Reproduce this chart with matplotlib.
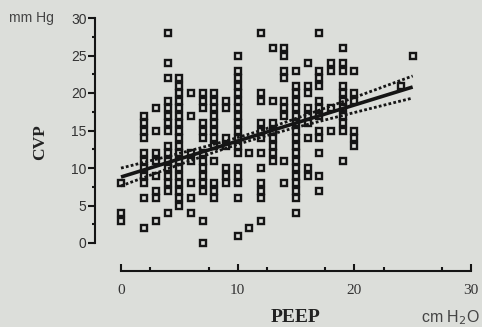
import numpy as np
import matplotlib
matplotlib.use("Agg")
import matplotlib.pyplot as plt
from matplotlib.ticker import FixedLocator

# ---- data ----
peep_levels = [0, 2, 3, 4, 5, 6, 7, 8, 9, 10, 11, 12, 13, 14, 15, 16, 17, 18, 19, 20, 24, 25]
cvp_p0 = [3, 4, 8]
cvp_p2 = [2, 6, 8, 9, 10, 11, 12, 14, 15, 16, 17]
cvp_p3 = [3, 6, 7, 9, 11, 12, 15, 18]
cvp_p4 = [4, 7, 8, 9, 10, 11, 12, 13, 15, 16, 17, 18, 19, 22, 24, 28]
cvp_p5 = [5, 6, 7, 8, 9, 10, 11, 12, 13, 14, 15, 16, 17, 18, 19, 20, 21, 22]
cvp_p6 = [4, 6, 8, 11, 12, 17, 20]
cvp_p7 = [0, 3, 7, 8, 9, 10, 11, 12, 14, 15, 16, 18, 19, 20]
cvp_p8 = [6, 7, 8, 11, 13, 14, 15, 16, 17, 18, 19, 20]
cvp_p9 = [8, 9, 10, 13, 14, 18, 19]
cvp_p10 = [1, 6, 8, 9, 10, 12, 13, 14, 15, 16, 17, 18, 19, 20, 21, 22, 23, 25]
cvp_p11 = [2, 12]
cvp_p12 = [3, 6, 7, 8, 10, 12, 14, 15, 16, 19, 20, 28]
cvp_p13 = [11, 12, 13, 14, 15, 16, 19, 26]
cvp_p14 = [8, 11, 17, 18, 19, 22, 23, 25, 26]
cvp_p15 = [4, 6, 7, 8, 9, 10, 11, 12, 13, 14, 15, 16, 17, 18, 19, 20, 21, 23]
cvp_p16 = [9, 10, 14, 16, 17, 18, 20, 21, 24]
cvp_p17 = [7, 9, 12, 14, 15, 17, 18, 19, 21, 22, 23, 28]
cvp_p18 = [15, 18, 23, 24]
cvp_p19 = [11, 15, 16, 17, 18, 19, 20, 21, 23, 24, 26]
cvp_p20 = [13, 14, 15, 19, 20, 23]
cvp_p24 = [21]
cvp_p25 = [25]
cvp_columns = [cvp_p0, cvp_p2, cvp_p3, cvp_p4, cvp_p5, cvp_p6, cvp_p7, cvp_p8, cvp_p9,
               cvp_p10, cvp_p11, cvp_p12, cvp_p13, cvp_p14, cvp_p15, cvp_p16, cvp_p17,
               cvp_p18, cvp_p19, cvp_p20, cvp_p24, cvp_p25]

# regression line and 95% band as drawn in the picture
fit_range = [0, 25]
fit_intercept = 8.8
fit_slope = 0.48
band_min_halfwidth = 0.45
band_center = 11.0
band_growth = 0.10

x_ticks = [0, 10, 20, 30]
y_ticks = [0, 5, 10, 15, 20, 25, 30]
minor_ticks = [2.5, 7.5, 12.5, 17.5, 22.5, 27.5]

x = np.concatenate([[p] * len(c) for p, c in zip(peep_levels, cvp_columns)]).astype(float)
y = np.concatenate(cvp_columns).astype(float)

# ---- figure ----
W, H = 482, 327
bg = "#dcdeda"
fig = plt.figure(figsize=(W / 100, H / 100), dpi=100, facecolor=bg)
ax_l, ax_r, ax_t, ax_b = 95, 471, 18, 271
ax = fig.add_axes([ax_l / W, 1 - ax_b / H, (ax_r - ax_l) / W, (ax_b - ax_t) / H])
ax.set_facecolor(bg)

xpx = (471 - 121) / 30.0
ypx = (243 - 18) / 30.0
ax.set_xlim(-(121 - ax_l) / xpx, 30)
ax.set_ylim(-(ax_b - 243) / ypx, 30)

ink = "#151515"
ax.plot(x, y, linestyle="none", marker="s", markersize=4.3, markeredgewidth=1.7,
        markeredgecolor=ink, markerfacecolor=bg, clip_on=False, zorder=3)

xf = np.linspace(fit_range[0], fit_range[1], 100)
yf = fit_intercept + fit_slope * xf
hw = np.sqrt(band_min_halfwidth ** 2 + (band_growth * (xf - band_center)) ** 2)
ax.plot(xf, yf, color=ink, lw=2.6, zorder=4, solid_capstyle="butt")
ax.plot(xf, yf + hw, color=ink, lw=2.0, ls=(0, (1, 0.8)), zorder=4)
ax.plot(xf, yf - hw, color=ink, lw=2.0, ls=(0, (1, 0.8)), zorder=4)

# spines
for sname in ["top", "right"]:
    ax.spines[sname].set_visible(False)
ax.spines["left"].set_bounds(0, 30)
ax.spines["bottom"].set_bounds(0, 30)
for sname in ["left", "bottom"]:
    ax.spines[sname].set_linewidth(1.5)
    ax.spines[sname].set_color(ink)

ax.set_yticks(y_ticks)
ax.set_xticks(x_ticks)
ax.yaxis.set_minor_locator(FixedLocator(minor_ticks))
ax.xaxis.set_minor_locator(FixedLocator(minor_ticks))
ax.tick_params(axis="y", which="major", direction="out", length=5, width=1.5, color=ink,
               labelsize=10, labelcolor="#333333", pad=1)
ax.tick_params(axis="y", which="minor", direction="out", length=2.5, width=1.5, color=ink)
ax.tick_params(axis="x", which="major", direction="in", length=5, width=1.5, color=ink,
               labelsize=11, labelcolor="#333333", pad=9)
ax.tick_params(axis="x", which="minor", direction="in", length=3, width=1.5, color=ink)
for lab in ax.get_yticklabels():
    lab.set_family("Liberation Sans")
for lab in ax.get_xticklabels():
    lab.set_family("Liberation Serif")

# labels
fig.text(31 / W, 1 - 18 / H, "mm Hg", ha="center", va="center", fontsize=10,
         family="Liberation Sans", color="#444444")
fig.text(40 / W, 1 - 142 / H, "CVP", ha="center", va="center", rotation=90, fontsize=12.5,
         family="Liberation Serif", weight="bold", color="#222222")
fig.text(296 / W, 1 - 318 / H, "PEEP", ha="center", va="center", fontsize=14,
         family="Liberation Serif", weight="bold", color="#222222")
fig.text(450 / W, 1 - 318 / H, r"cm H$_2$O", ha="center", va="center", fontsize=11.5,
         family="Liberation Sans", color="#444444")

fig.savefig("out.png", dpi=100, facecolor=bg)
